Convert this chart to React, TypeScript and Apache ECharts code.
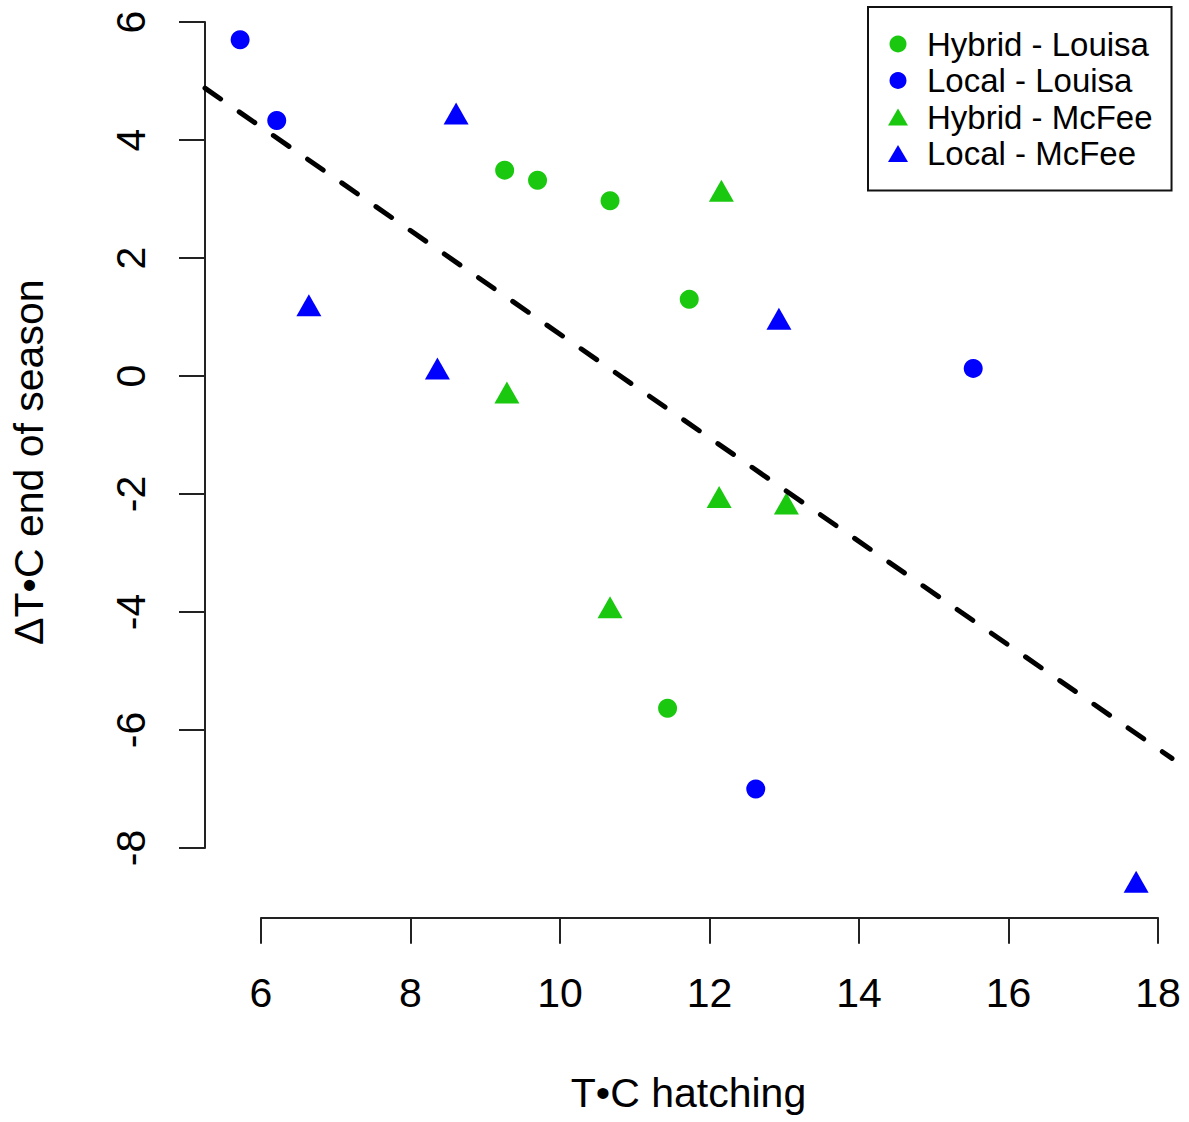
import React, { useEffect, useRef } from "react";
import * as echarts from "echarts";

// ---- Data ----
const seriesNames = ["Hybrid - Louisa", "Local - Louisa", "Hybrid - McFee", "Local - McFee"];

const hybridLouisaX = [9.26, 9.7, 10.67, 11.73, 11.44];
const hybridLouisaY = [3.49, 3.32, 2.97, 1.3, -5.63];

const localLouisaX = [5.72, 6.21, 15.53, 12.62];
const localLouisaY = [5.7, 4.33, 0.13, -7.0];

const hybridMcFeeX = [12.16, 9.29, 12.13, 13.03, 10.67];
const hybridMcFeeY = [3.14, -0.28, -2.05, -2.16, -3.92];

const localMcFeeX = [8.61, 6.64, 8.36, 12.93, 17.71];
const localMcFeeY = [4.45, 1.2, 0.13, 0.97, -8.57];

// dashed fitted line, end points read at the plot-region edges
const fitLineX = [5.25, 18.19];
const fitLineY = [4.88, -6.48];

// axis ranges / ticks
const plotXRange = [5.25, 18.19];
const plotYRange = [-9.18, 6.26];
const xTickRange = [6, 18];
const yTickRange = [-8, 6];
const tickStep = 2;

const xTitle = "T•C hatching";
const yTitle = "ΔT•C end of season";

const GREEN = "#19C80F";
const BLUE = "#0000FF";
const FONT = "'Liberation Sans', Arial, Helvetica, sans-serif";

const zip = (xs: number[], ys: number[]) => xs.map((x, i) => [x, ys[i]]);

export default function App() {
  const ref = useRef<HTMLDivElement>(null);

  useEffect(() => {
    if (!ref.current) return;
    const chart = echarts.init(ref.current, undefined, { renderer: "svg" });

    const axisLineStyle = { color: "#222", width: 2 };
    const hiddenAxis = {
      axisLine: { show: false, onZero: false },
      axisTick: { show: false },
      axisLabel: { show: false },
      splitLine: { show: false },
    };

    const option: any = {
      animation: false,
      backgroundColor: "#ffffff",
      textStyle: { fontFamily: FONT },
      grid: [
        { left: 205, right: 17, top: 6.7, bottom: 204.3 },
        { left: 261, width: 897, top: 6.7, bottom: 204.3 },
        { left: 205, width: 967, top: 22, height: 826 },
      ],
      xAxis: [
        {
          gridIndex: 0,
          type: "value",
          min: plotXRange[0],
          max: plotXRange[1],
          ...hiddenAxis,
          name: xTitle,
          nameLocation: "middle",
          nameGap: 155,
          nameTextStyle: { fontSize: 41, color: "#000", fontFamily: FONT },
        },
        {
          gridIndex: 1,
          type: "value",
          min: xTickRange[0],
          max: xTickRange[1],
          interval: tickStep,
          axisLine: { show: true, onZero: false, lineStyle: axisLineStyle },
          axisTick: { show: true, inside: false, length: 26, lineStyle: axisLineStyle },
          axisLabel: { show: true, margin: 55, fontSize: 41, color: "#000", fontFamily: FONT },
          splitLine: { show: false },
        },
        { gridIndex: 2, type: "value", show: false, min: 0, max: 1 },
      ],
      yAxis: [
        {
          gridIndex: 0,
          type: "value",
          min: plotYRange[0],
          max: plotYRange[1],
          ...hiddenAxis,
          name: yTitle,
          nameLocation: "middle",
          nameGap: 156,
          nameRotate: 90,
          nameTextStyle: { fontSize: 41, color: "#000", fontFamily: FONT },
        },
        { gridIndex: 1, type: "value", show: false, min: 0, max: 1 },
        {
          gridIndex: 2,
          type: "value",
          min: yTickRange[0],
          max: yTickRange[1],
          interval: tickStep,
          axisLine: { show: true, onZero: false, lineStyle: axisLineStyle },
          axisTick: { show: true, inside: false, length: 26, lineStyle: axisLineStyle },
          axisLabel: { show: true, rotate: 90, margin: 54, fontSize: 41, color: "#000", fontFamily: FONT },
          splitLine: { show: false },
        },
      ],
      legend: {
        show: true,
        orient: "vertical",
        left: 868,
        top: 7,
        padding: [19, 19, 19, 20],
        itemGap: 0.5,
        itemWidth: 20,
        itemHeight: 17,
        selectedMode: false,
        borderColor: "#111",
        borderWidth: 2,
        backgroundColor: "#fff",
        textStyle: { fontSize: 33, lineHeight: 36, color: "#000", fontFamily: FONT, padding: [0, 0, 0, 14] },
        data: [
          { name: seriesNames[0], icon: "circle" },
          { name: seriesNames[1], icon: "circle" },
          { name: seriesNames[2], icon: "triangle" },
          { name: seriesNames[3], icon: "triangle" },
        ],
      },
      series: [
        {
          name: seriesNames[0],
          type: "scatter",
          xAxisIndex: 0,
          yAxisIndex: 0,
          symbol: "circle",
          symbolSize: 19,
          itemStyle: { color: GREEN, opacity: 1 },
          data: zip(hybridLouisaX, hybridLouisaY),
        },
        {
          name: seriesNames[1],
          type: "scatter",
          xAxisIndex: 0,
          yAxisIndex: 0,
          symbol: "circle",
          symbolSize: 19,
          itemStyle: { color: BLUE, opacity: 1 },
          data: zip(localLouisaX, localLouisaY),
        },
        {
          name: seriesNames[2],
          type: "scatter",
          xAxisIndex: 0,
          yAxisIndex: 0,
          symbol: "triangle",
          symbolSize: [25, 22],
          itemStyle: { color: GREEN, opacity: 1 },
          data: zip(hybridMcFeeX, hybridMcFeeY),
        },
        {
          name: seriesNames[3],
          type: "scatter",
          xAxisIndex: 0,
          yAxisIndex: 0,
          symbol: "triangle",
          symbolSize: [25, 22],
          itemStyle: { color: BLUE, opacity: 1 },
          data: zip(localMcFeeX, localMcFeeY),
        },
        {
          name: "fit",
          type: "line",
          xAxisIndex: 0,
          yAxisIndex: 0,
          symbol: "none",
          silent: true,
          z: 5,
          clip: true,
          lineStyle: { color: "#000", width: 5, type: [19, 22.6], cap: "round" },
          data: zip(fitLineX, fitLineY),
        },
      ],
    };

    chart.setOption(option);
    return () => chart.dispose();
  }, []);

  return (
    <div
      ref={ref}
      style={{ position: "absolute", left: 0, top: 0, width: 1189, height: 1122, background: "#fff" }}
    />
  );
}
